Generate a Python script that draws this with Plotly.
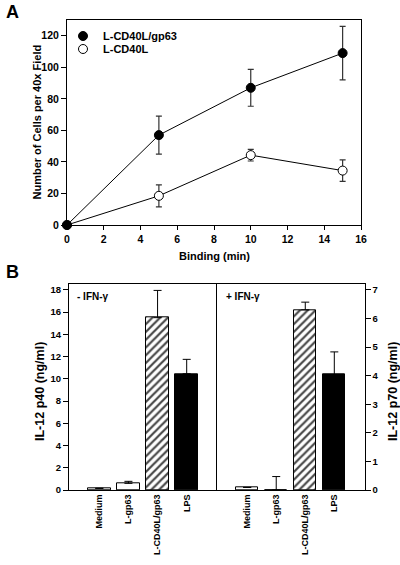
import plotly.graph_objects as go

# ---------------- Data ----------------
# Panel A: binding time course
binding_min = [0, 5, 10, 15]
cd40l_gp63_cells = [0, 57, 87, 109]
cd40l_gp63_err = [0, 12, 11.7, 17]
cd40l_cells = [0, 18.5, 44.3, 34.5]
cd40l_err = [0, 7, 3.7, 6.8]

# Panel B: IL-12 production
treatments = ["Medium", "L-gp63", "L-CD40L/gp63", "LPS"]
p40_no_ifn = [0.15, 0.6, 15.5, 10.45]
p40_no_ifn_err = [0, 0.18, 2.45, 1.3]
p70_ifn = [0.09, 0.0, 6.3, 4.03]
p70_ifn_err = [0, 0.47, 0.27, 0.8]

bar_fill = ["white", "white", "white", "black"]
bar_pattern = ["", "", "/", ""]

FONT = "Liberation Sans, Arial, sans-serif"
BOLD = dict(family=FONT, color="black", weight="bold")

fig = go.Figure()

# ---------------- Panel A ----------------
fig.add_trace(go.Scatter(
    x=binding_min, y=cd40l_gp63_cells, mode="lines+markers",
    line=dict(color="black", width=1),
    marker=dict(size=9, color="black", line=dict(color="black", width=1)),
    error_y=dict(type="data", array=cd40l_gp63_err, color="#333", thickness=1.2, width=3),
    showlegend=False, cliponaxis=False, xaxis="x", yaxis="y"))
fig.add_trace(go.Scatter(
    x=binding_min, y=cd40l_cells, mode="lines+markers",
    line=dict(color="black", width=1),
    marker=dict(size=9, color="white", line=dict(color="black", width=1)),
    error_y=dict(type="data", array=cd40l_err, color="#333", thickness=1.2, width=3),
    showlegend=False, cliponaxis=False, xaxis="x", yaxis="y"))
# redraw origin filled marker on top
fig.add_trace(go.Scatter(
    x=binding_min[:1], y=cd40l_gp63_cells[:1], mode="markers",
    marker=dict(size=9, color="black"), showlegend=False, cliponaxis=False,
    hoverinfo="skip", xaxis="x", yaxis="y"))
# legend entries (markers only), each in its own legend for tight spacing
fig.add_trace(go.Scatter(
    x=[None], y=[None], mode="markers", name="L-CD40L/gp63", legend="legend",
    marker=dict(size=9, color="black", line=dict(color="black", width=1)),
    xaxis="x", yaxis="y"))
fig.add_trace(go.Scatter(
    x=[None], y=[None], mode="markers", name="L-CD40L", legend="legend2",
    marker=dict(size=9, color="white", line=dict(color="black", width=1)),
    xaxis="x", yaxis="y"))

# ---------------- Panel B ----------------
hatch = dict(shape=bar_pattern, fgcolor="black", bgcolor="white", fgopacity=1,
             size=5.5, solidity=0.4)
fig.add_trace(go.Bar(
    x=treatments, y=p40_no_ifn, width=0.77,
    marker=dict(color=bar_fill, line=dict(color="black", width=1), pattern=hatch),
    error_y=dict(type="data", symmetric=False, array=p40_no_ifn_err,
                 arrayminus=[0, 0, 0, 0], color="black", thickness=1, width=4),
    showlegend=False, xaxis="x2", yaxis="y2"))
fig.add_trace(go.Bar(
    x=treatments, y=p70_ifn, width=0.77,
    marker=dict(color=bar_fill, line=dict(color="black", width=1), pattern=hatch),
    error_y=dict(type="data", symmetric=False, array=p70_ifn_err,
                 arrayminus=[0, 0, 0, 0], color="black", thickness=1, width=4),
    showlegend=False, xaxis="x3", yaxis="y3"))

W, H = 400, 565
def px_x(p): return p / W
def px_y(p): return 1 - p / H

def axis_common(fs):
    return dict(showgrid=False, zeroline=False, showline=True, linecolor="black",
                linewidth=1, tickfont=dict(size=fs, **BOLD), automargin=False)

legend_common = dict(xanchor="left", yanchor="middle", bgcolor="rgba(0,0,0,0)",
                     font=dict(size=11, **BOLD), itemwidth=30, borderwidth=0)

def label(text, x, y, size, angle=0, xanchor="center"):
    return dict(text=text, x=px_x(x), y=px_y(y), xref="paper", yref="paper",
                xanchor=xanchor, yanchor="middle", showarrow=False, textangle=angle,
                font=dict(size=size, **BOLD))

fig.update_layout(
    width=W, height=H, margin=dict(l=0, r=0, t=0, b=0),
    paper_bgcolor="white", plot_bgcolor="white",
    font=dict(family=FONT, color="black"),
    bargap=0,
    xaxis=dict(domain=[px_x(67), px_x(361)], range=[0, 16], tickvals=list(range(0, 17, 2)),
               ticks="outside", ticklen=4, tickcolor="black", mirror=True, anchor="y",
               **axis_common(10.5)),
    yaxis=dict(domain=[px_y(225), px_y(20)], range=[0, 130], tickvals=list(range(0, 121, 20)),
               ticks="outside", ticklen=5, tickcolor="black", mirror=True, anchor="x",
               **axis_common(10.5)),
    xaxis2=dict(domain=[px_x(69), px_x(217)], range=[-1.04, 4.04], type="category",
                ticks="", tickangle=-90, mirror=True, anchor="y2", **axis_common(9)),
    yaxis2=dict(domain=[px_y(490), px_y(284.3)], range=[0, 18.5], tickvals=list(range(0, 19, 2)),
                ticks="outside", ticklen=5, tickcolor="black", anchor="x2", side="left",
                **axis_common(9.5)),
    xaxis3=dict(domain=[px_x(217), px_x(364.5)], range=[-1.04, 4.04], type="category",
                ticks="", tickangle=-90, mirror=True, anchor="y3", **axis_common(9)),
    yaxis3=dict(domain=[px_y(490), px_y(284.3)], range=[0, 18.5 * 7 / 18], tickvals=list(range(0, 8)),
                ticks="outside", ticklen=5, tickcolor="black", anchor="x3", side="right",
                mirror=True, **axis_common(9.5)),
    legend=dict(x=px_x(63), y=px_y(36), **legend_common),
    legend2=dict(x=px_x(63), y=px_y(49), **legend_common),
    annotations=[
        label("A", 4, 12, 18, xanchor="left"),
        label("B", 4, 272, 18, xanchor="left"),
        label("- IFN-γ", 75, 296, 10, xanchor="left"),
        label("+ IFN-γ", 224, 296, 10, xanchor="left"),
        label("Binding (min)", 214, 256, 11),
        label("Number of Cells per 40x Field", 36, 122.5, 11, angle=-90),
        label("IL-12 p40 (ng/ml)", 40, 392, 12.5, angle=-90),
        label("IL-12 p70 (ng/ml)", 393, 392, 12.5, angle=-90),
    ],
)

fig.write_html("out.html", config={"displayModeBar": False},
               post_script="document.body.style.margin='0';")
